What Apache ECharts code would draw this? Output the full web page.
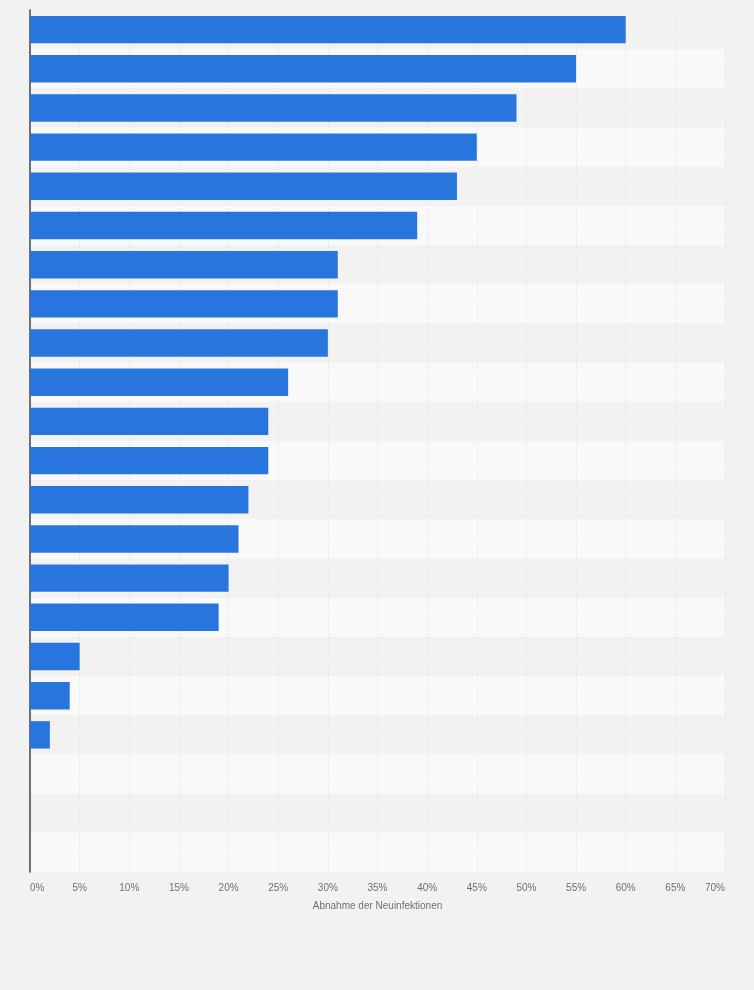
<!DOCTYPE html>
<html>
<head>
<meta charset="utf-8">
<script src="https://cdn.jsdelivr.net/npm/echarts@6/dist/echarts.min.js"></script>
<style>
  html, body { margin: 0; padding: 0; background: #f2f2f2; }
  #chart { width: 754px; height: 990px; }
</style>
</head>
<body>
<div id="chart"></div>
<script>
// rows top to bottom; the source shows no category labels
const categories = [
  'Reihe 1', 'Reihe 2', 'Reihe 3', 'Reihe 4', 'Reihe 5', 'Reihe 6',
  'Reihe 7', 'Reihe 8', 'Reihe 9', 'Reihe 10', 'Reihe 11', 'Reihe 12',
  'Reihe 13', 'Reihe 14', 'Reihe 15', 'Reihe 16', 'Reihe 17', 'Reihe 18',
  'Reihe 19', 'Reihe 20', 'Reihe 21', 'Reihe 22'
]
const values = [60, 55, 49, 45, 43, 39, 31, 31, 30, 26, 24, 24, 22, 21, 20, 19, 5, 4, 2, null, null, null]
const xName = 'Abnahme der Neuinfektionen'

const chart = echarts.init(document.getElementById('chart'))

chart.setOption({
  backgroundColor: '#f2f2f2',
  animation: false,
  grid: { left: 30, right: 29, top: 10, bottom: 118, containLabel: false },
  xAxis: {
    type: 'value',
    min: 0,
    max: 70,
    interval: 5,
    name: xName,
    nameLocation: 'middle',
    nameGap: 29,
    nameTextStyle: { color: '#707070', fontSize: 10, fontFamily: 'Arial, Liberation Sans, sans-serif' },
    axisLine: { show: false },
    axisTick: { show: false },
    axisLabel: {
      color: '#707070',
      fontSize: 10,
      margin: 11,
      fontFamily: 'Arial, Liberation Sans, sans-serif',
      formatter: '{value}%',
      alignMinLabel: 'left',
      alignMaxLabel: 'right'
    },
    splitLine: { show: true, lineStyle: { color: '#dedede', type: [1, 2], width: 1 } }
  },
  yAxis: {
    type: 'category',
    data: categories,
    inverse: true,
    axisLine: { show: true, lineStyle: { color: '#444', width: 1.5 } },
    axisTick: { show: false },
    axisLabel: { show: false },
    splitArea: { show: true, areaStyle: { color: ['#f2f2f2', '#f9f9f9'] } }
  },
  series: [{
    type: 'bar',
    data: values,
    barWidth: '70%',
    itemStyle: { color: '#2876dd' }
  }]
})
</script>
</body>
</html>
